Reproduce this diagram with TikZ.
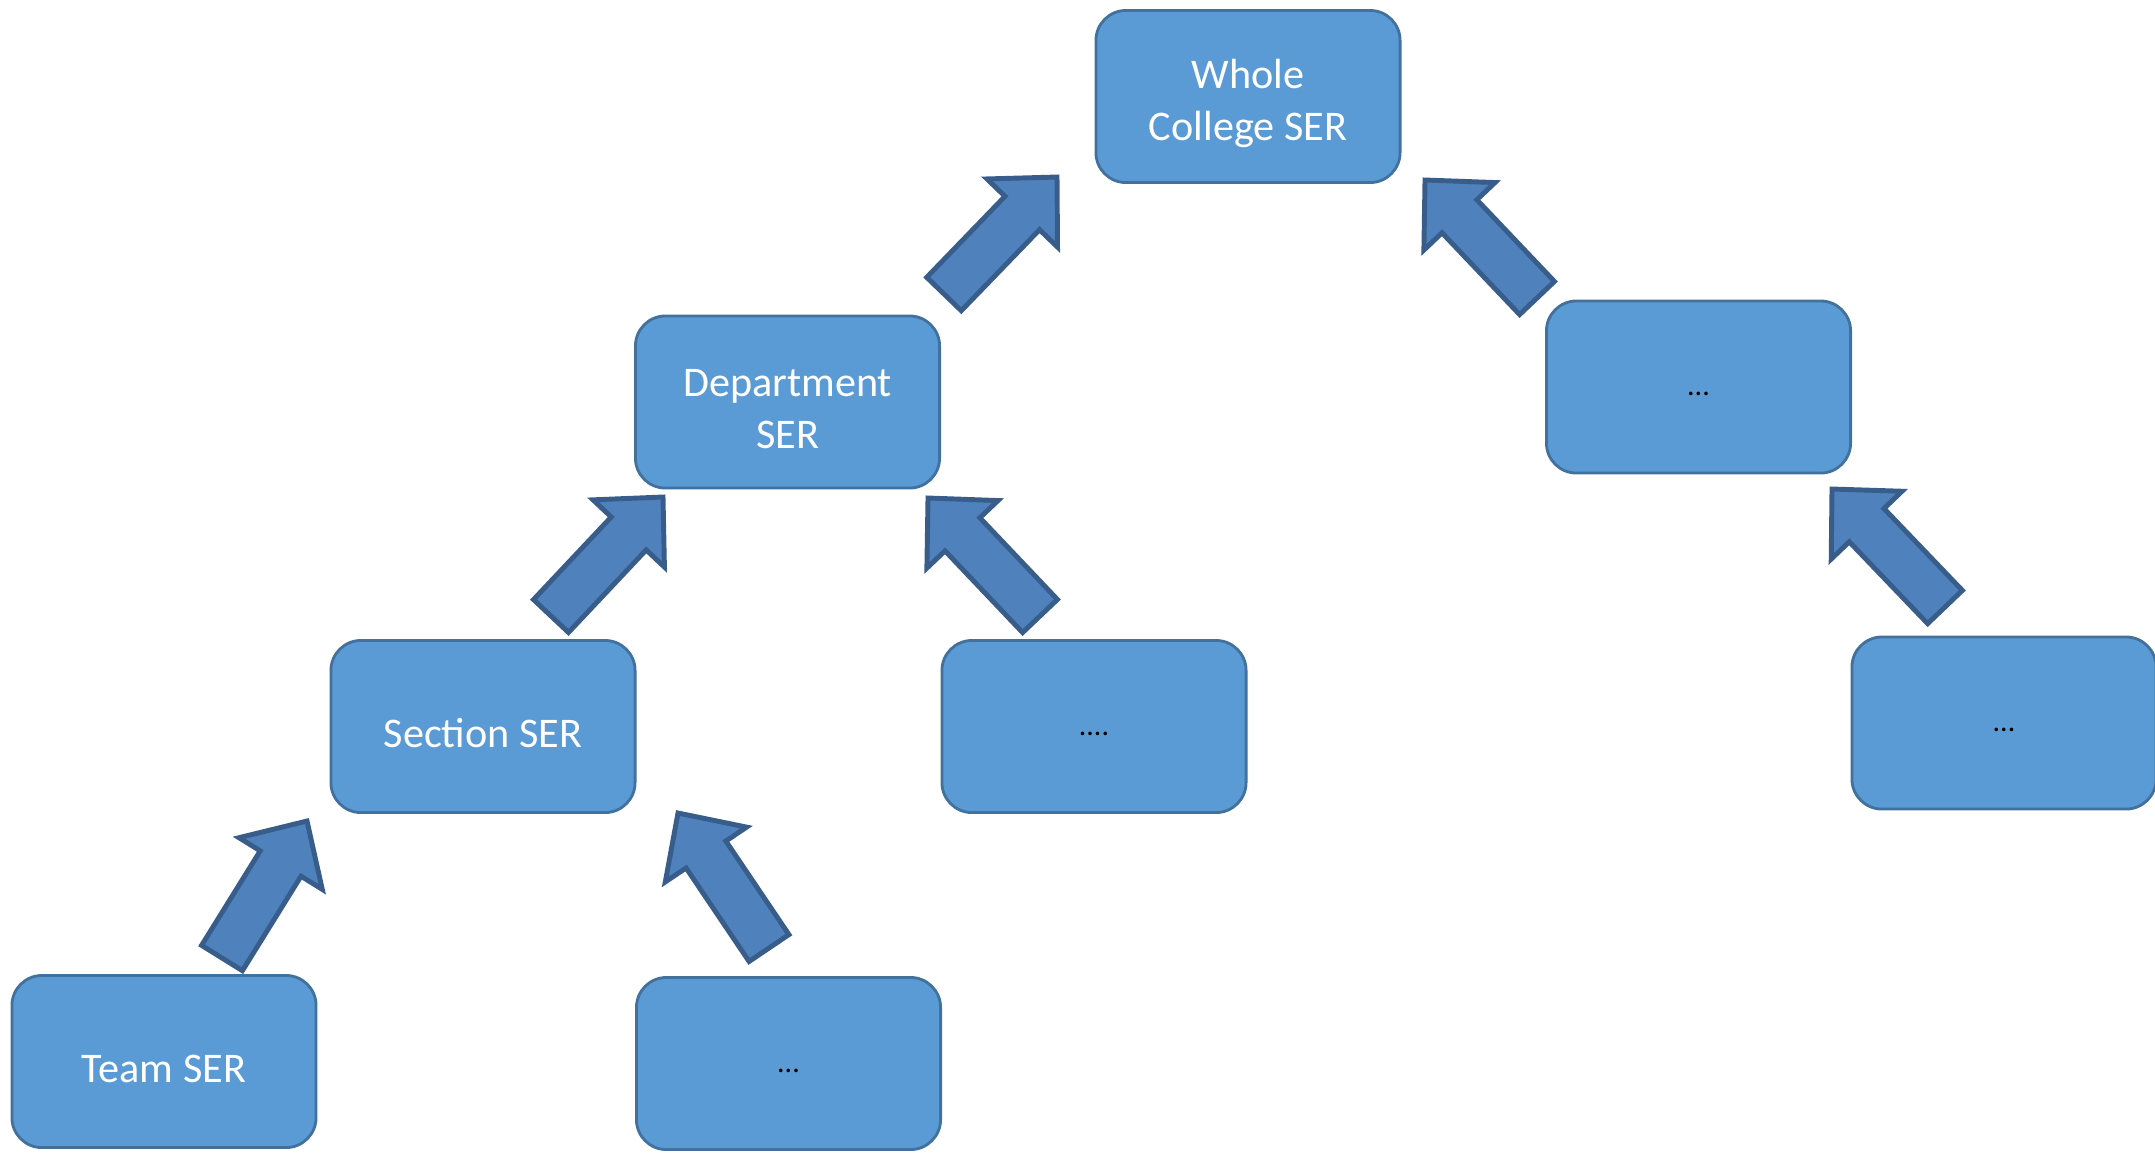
\documentclass[tikz,border=0pt]{standalone}
\usepackage{fontspec}
\setmainfont{Carlito}
\usetikzlibrary{calc}

\definecolor{boxfill}{HTML}{5B9BD5}
\definecolor{boxline}{HTML}{41719C}
\definecolor{arrowfill}{HTML}{4F81BD}
\definecolor{arrowline}{HTML}{385D8A}

% block arrow from a tail point to a tip point
\newcommand\blockarrow[2]{%
  \path ($(#2)!0.5cm!(#1)$) coordinate (hb);
  \draw [uparrow] ($(#1)!0.24cm!90:(#2)$) -- ($(hb)!0.24cm!90:(#2)$)
    -- ($(hb)!0.49cm!90:(#2)$) -- (#2) -- ($(hb)!0.49cm!-90:(#2)$)
    -- ($(hb)!0.24cm!-90:(#2)$) -- ($(#1)!0.24cm!-90:(#2)$) -- cycle;
}

\begin{document}
\begin{tikzpicture}[
     x = 0.01cm,
     y = -0.01cm,
     serbox/.style = {draw = boxline, line width = 0.8pt, fill = boxfill,
       rounded corners = 0.3cm, minimum width = 3.04cm, minimum height = 1.72cm},
     sertext/.style = {yshift = -2pt, align = center, text = white,
       font = \fontsize{12}{14.6}\selectfont},
     dots/.style = {yshift = -2pt, text = black, font = \fontsize{8.5}{10}\selectfont},
     uparrow/.style = {draw = arrowline, line width = 1.4pt, fill = arrowfill,
       line join = miter}
    ]
    \useasboundingbox (0,0) rectangle (2155,1153);

    \node [serbox] (College) at (1248,96.5) {};
    \node [serbox] (Department) at (787.5,402) {};
    \node [serbox] (RightDots) at (1698.5,387) {};
    \node [serbox] (Section) at (483,726.5) {};
    \node [serbox] (MidDots) at (1094,726.5) {};
    \node [serbox] (FarDots) at (2004,723) {};
    \node [serbox] (Team) at (164,1061.5) {};
    \node [serbox] (LowDots) at (788.5,1063.5) {};

    \node [sertext] (CollegeText) at (College) {Whole\\College SER};
    \node [sertext] (DepartmentText) at (Department) {Department\\SER};
    \node [sertext] (SectionText) at (Section) {Section SER};
    \node [sertext] (TeamText) at (Team) {Team SER};
    \node [dots] (RightDotsText) at (RightDots) {...};
    \node [dots] (MidDotsText) at (MidDots) {....};
    \node [dots] (FarDotsText) at (FarDots) {...};
    \node [dots] (LowDotsText) at (LowDots) {...};

    % tails and tips of the block arrows
    \coordinate (DeptTail) at (944,294);   \coordinate (DeptTip) at (1057,177);
    \coordinate (SecTail) at (551,616);    \coordinate (SecTip) at (663,497);
    \coordinate (MidTail) at (1040,616);   \coordinate (MidTip) at (928,498);
    \coordinate (TeamTail) at (222,958);   \coordinate (TeamTip) at (307,821);
    \coordinate (LowTail) at (769,948);    \coordinate (LowTip) at (678,813);
    \coordinate (RightTail) at (1537,298); \coordinate (RightTip) at (1425,180);
    \coordinate (FarTail) at (1945,607);   \coordinate (FarTip) at (1832,489);

    \blockarrow{DeptTail}{DeptTip}
    \blockarrow{SecTail}{SecTip}
    \blockarrow{MidTail}{MidTip}
    \blockarrow{TeamTail}{TeamTip}
    \blockarrow{LowTail}{LowTip}
    \blockarrow{RightTail}{RightTip}
    \blockarrow{FarTail}{FarTip}

   \end{tikzpicture}
\end{document}
